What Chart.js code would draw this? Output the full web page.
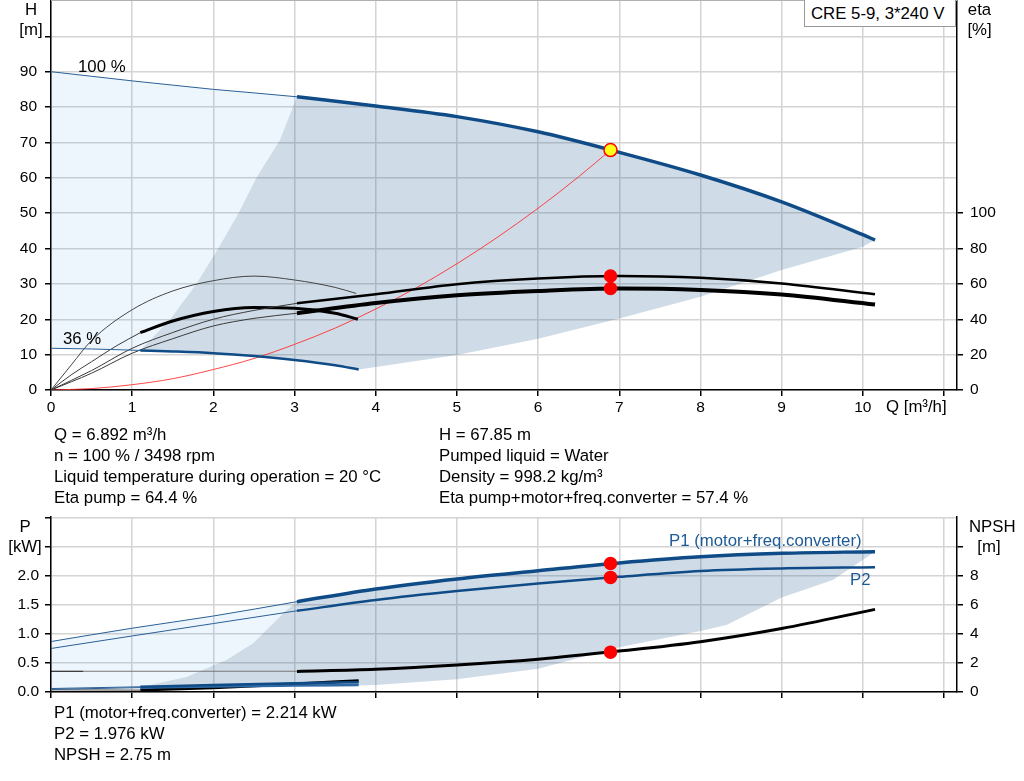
<!DOCTYPE html>
<html>
<head>
<meta charset="utf-8">
<script src="https://cdn.jsdelivr.net/npm/chart.js@4.4.1/dist/chart.umd.min.js"></script>
<style>
  body { margin: 0; background: #fff; font-family: "Liberation Sans", Arial, sans-serif; }
  #wrap { position: relative; width: 1024px; height: 781px; overflow: hidden; }
  canvas { position: absolute; left: 0; }
  .t { position: absolute; font-size: 16.8px; line-height: 21px; color: #000; white-space: nowrap; }
  .ax { position: absolute; width: 40px; text-align: center; font-size: 16.8px; line-height: 20px; }
  .blue { color: #1d5a96; }
  #model { position: absolute; left: 804px; top: -1px; width: 152px; height: 28px; border: 1px solid #999;
           background: #fff; box-sizing: border-box; font-size: 16.8px; line-height: 28px; padding-left: 6px; }
</style>
</head>
<body>
<div id="wrap">
  <canvas id="topChart" width="1024" height="425" style="top:0"></canvas>
  <canvas id="botChart" width="1024" height="207" style="top:505px"></canvas>

  <div id="model">CRE 5-9, 3*240 V</div>
  <div class="ax" style="left:11px;top:-0.5px">H<br>[m]</div>
  <div class="ax" style="left:959.5px;top:-0.5px">eta<br>[%]</div>
  <div class="t" style="left:886px;top:396px">Q [m³/h]</div>
  <div class="t" style="left:78px;top:56px">100 %</div>
  <div class="t" style="left:63px;top:327.5px">36 %</div>

  <div class="t" style="left:54px;top:423.5px">Q = 6.892 m³/h<br>n = 100 % / 3498 rpm<br>Liquid temperature during operation = 20 °C<br>Eta pump = 64.4 %</div>
  <div class="t" style="left:439px;top:423.5px">H = 67.85 m<br>Pumped liquid = Water<br>Density = 998.2 kg/m³<br>Eta pump+motor+freq.converter = 57.4 %</div>

  <div class="ax" style="left:5px;top:516.7px">P<br>[kW]</div>
  <div class="ax" style="left:969px;top:516.7px">NPSH<br>[m]</div>
  <div class="t blue" style="left:669px;top:530px">P1 (motor+freq.converter)</div>
  <div class="t blue" style="left:850px;top:568.8px">P2</div>

  <div class="t" style="left:54px;top:702px">P1 (motor+freq.converter) = 2.214 kW<br>P2 = 1.976 kW<br>NPSH = 2.75 m</div>
</div>

<script>
// ---------- data ----------
// Q-H at 100 % speed (thin part outside the recommended range, thick part inside)
const hThinQ = [0, 0.5, 1, 1.5, 2, 2.5, 3.03];
const hThinH = [90, 88.7, 87.4, 86.2, 85.0, 84.0, 82.9];
const hQ = [3.03, 4, 5, 6, 7, 8, 9, 10, 10.15];
const hH = [82.9, 80.3, 77.3, 73.0, 67.2, 60.8, 53.2, 43.9, 42.4];

// Q-H at 36 % speed
const h36ThinQ = [0, 0.5, 1.1];
const h36ThinH = [11.8, 11.6, 11.2];
const h36Q = [1.1, 1.5, 2, 2.5, 3, 3.5, 3.79];
const h36H = [11.2, 10.9, 10.4, 9.6, 8.5, 7.0, 5.8];

// efficiencies [%], right axis
const etaPumpThinQ = [0, 0.5, 1, 1.5, 2, 2.5, 3.03];
const etaPumpThin = [0, 11, 23.6, 32.5, 40, 45, 49];
const etaPumpQ = [3.03, 4, 5, 6, 7, 8, 9, 10.15];
const etaPump = [49, 54.1, 59.8, 63.0, 64.4, 63.4, 60.2, 54.1];
const etaTotThinQ = [0, 0.5, 1, 1.5, 2, 2.5, 3.03];
const etaTotThin = [0, 9.5, 20.8, 29, 36.2, 40.5, 43.4];
const etaTotQ = [3.03, 4, 5, 6, 7, 8, 9, 10.15];
const etaTot = [43.4, 49.2, 53.6, 56.0, 57.4, 56.6, 54.0, 48.3];

const eta36PumpQ = [0, 0.25, 0.5, 1, 1.5, 2, 2.5, 3, 3.5, 3.76];
const eta36Pump = [0, 14.2, 28, 45.4, 56, 61.8, 64.4, 62.2, 58, 54.6];
const eta36TotThinQ = [0, 0.25, 0.5, 0.8, 1.1];
const eta36TotThin = [0, 8.6, 16, 24.8, 32.4];
const eta36TotQ = [1.1, 1.5, 2, 2.5, 3, 3.5, 3.78];
const eta36Tot = [32.4, 39, 44.4, 46.6, 46.2, 43.4, 40.0];

// system curve through the duty point
const sysQ = [0, 0.5, 1, 1.5, 2, 2.5, 3, 3.5, 4, 4.5, 5, 5.5, 6, 6.5, 6.892];
const sysH = [0, 0.4, 1.5, 3.2, 5.8, 8.9, 12.9, 17.5, 22.9, 28.9, 35.7, 43.2, 51.4, 60.3, 67.85];

// operating range edges (Q-H)
const edgeQ = [1.1, 1.47, 1.79, 2.06, 2.31, 2.53, 2.82, 3.03];
const edgeH = [11.2, 20, 30, 40, 50, 60, 70.7, 82.9];
const lowQ = [10.15, 10, 9, 8, 7, 6, 5, 3.79];
const lowH = [42.4, 40.5, 33.9, 26.4, 20.2, 14.5, 9.9, 5.8];

// duty point
const opQ = 6.892, opH = 67.85, opEtaPump = 64.4, opEtaTot = 57.4;
const opP1 = 2.214, opP2 = 1.976, opNpsh = 2.75;

// power [kW] and NPSH [m]
const p1ThinQ = [0, 1, 2, 3.03];
const p1Thin = [0.87, 1.10, 1.31, 1.557];
const p1Q = [3.03, 4, 5, 6, 7, 8, 9, 10.15];
const p1 = [1.557, 1.776, 1.95, 2.09, 2.225, 2.33, 2.39, 2.42];
const p2ThinQ = [0, 1, 2, 3.03];
const p2Thin = [0.75, 0.966, 1.18, 1.40];
const p2Q = [3.03, 4, 5, 6, 7, 8, 9, 10.15];
const p2 = [1.40, 1.586, 1.74, 1.87, 1.985, 2.086, 2.13, 2.15];
const npshThinQ = [0, 0.4, 3.03];
const npshThin = [1.43, 1.43, 1.43];
const npshQ = [3.03, 4, 5, 6, 7, 8, 9, 10.15];
const npsh = [1.42, 1.57, 1.86, 2.26, 2.82, 3.47, 4.38, 5.7];

const p1s36ThinQ = [0, 1.1];
const p1s36Thin = [0.06, 0.09];
const p1s36Q = [1.1, 2, 3, 3.79];
const p1s36 = [0.09, 0.12, 0.15, 0.17];
const p2s36ThinQ = [0, 1.1];
const p2s36Thin = [0.045, 0.075];
const p2s36Q = [1.1, 2, 3, 3.79];
const p2s36 = [0.075, 0.095, 0.11, 0.12];
const npsh36ThinQ = [0, 1.1];
const npsh36Thin = [0.15, 0.13];
const npsh36Q = [1.1, 2, 3, 3.79];
const npsh36 = [0.13, 0.3, 0.55, 0.78];

// operating range edges (power)
const pEdgeQ = [1.1, 1.22, 1.67, 2.16, 2.49, 2.9, 3.03];
const pEdgeP = [0.09, 0.12, 0.26, 0.55, 0.84, 1.41, 1.557];
const pLowQ = [10.15, 9.63, 9, 8.32, 8, 7, 6, 5, 4, 3.79];
const pLowP = [2.42, 1.93, 1.63, 1.155, 1.05, 0.77, 0.40, 0.22, 0.12, 0.11];

// ---------- helpers ----------
const BLUE = '#0f4c87';
const THIN_BLUE = '#2a5f96';
const DARK_FILL = 'rgba(30,85,135,0.21)';
const LIGHT_FILL = 'rgba(30,130,230,0.076)';

Chart.defaults.font.family = '"Liberation Sans", Arial, sans-serif';
Chart.defaults.color = '#000';

const xy = (qs, vs) => qs.map((q, i) => ({ x: q, y: vs[i] }));
const rev = a => a.slice().reverse();

function curve(qs, vs, color, width, axis) {
  return {
    data: xy(qs, vs), yAxisID: axis || 'y',
    borderColor: color, borderWidth: width,
    pointRadius: 0, fill: false, cubicInterpolationMode: 'monotone', order: 2
  };
}

function area(pts, color) {
  return {
    data: pts, yAxisID: 'y', backgroundColor: color, borderColor: 'transparent', borderWidth: 1,
    pointRadius: 0, fill: 'shape', tension: 0, order: 5
  };
}

function dot(q, v, axis, bg, r) {
  return {
    data: [{ x: q, y: v }], yAxisID: axis, showLine: false,
    pointRadius: r, pointBackgroundColor: bg, pointBorderColor: '#f00', pointBorderWidth: 1.5, order: 0
  };
}

const tickFont = { size: 15.5 };
const gridOpts = { color: '#d4d4d4', lineWidth: 1.5, tickColor: '#000', tickLength: 6, tickWidth: 1.5 };

function xScale(h, labels) {
  return {
    type: 'linear', min: 0, max: 11.16,
    ticks: { stepSize: 1, includeBounds: false, autoSkip: false, maxRotation: 0, font: tickFont, padding: 2,
             callback: v => (labels && v <= 10 ? v : '') },
    grid: gridOpts,
    border: { color: '#000', width: 1.5 },
    afterFit: s => { s.height = h; s.paddingLeft = 0; s.paddingRight = 0; }
  };
}

function yScale(pos, max, step, lastLabel, lastTick, fmt, onArea, pad) {
  return {
    type: 'linear', position: pos, min: 0, max: max,
    ticks: { stepSize: step, includeBounds: false, autoSkip: false, font: tickFont, padding: pad,
             callback: v => (v <= lastLabel ? fmt(v) : '') },
    grid: Object.assign({}, gridOpts, { drawOnChartArea: onArea }),
    border: { color: '#000', width: 1.5 },
    afterBuildTicks: s => { s.ticks = s.ticks.filter(t => t.value <= lastTick + 1e-9); },
    afterFit: s => { s.width = pos === 'left' ? 51 : 67; s.paddingTop = 0; s.paddingBottom = 0; }
  };
}

const topBorder = {
  id: 'topBorder',
  afterDraw(c) {
    const a = c.chartArea, ctx = c.ctx;
    ctx.save();
    ctx.strokeStyle = '#b0b0b0';
    ctx.lineWidth = 1;
    ctx.beginPath();
    ctx.moveTo(a.left, a.top + 0.5);
    ctx.lineTo(a.right, a.top + 0.5);
    ctx.stroke();
    ctx.restore();
  }
};

const baseOpts = {
  responsive: false, animation: false,
  plugins: { legend: { display: false }, tooltip: { enabled: false } },
  elements: { line: { borderCapStyle: 'butt' } }
};

// ---------- top chart: Q-H and efficiency ----------
const lightTop = xy(hThinQ, hThinH)
  .concat(xy(rev(edgeQ), rev(edgeH)))
  .concat(xy(rev(h36ThinQ), rev(h36ThinH)));
const darkTop = xy(edgeQ, edgeH)
  .concat(xy(hQ, hH).slice(1))
  .concat(xy(lowQ, lowH).slice(1))
  .concat(xy(rev(h36Q), rev(h36H)).slice(1));

new Chart(document.getElementById('topChart'), {
  type: 'line',
  data: {
    datasets: [
      dot(opQ, opH, 'y', '#ffff1a', 6.5),
      dot(opQ, opEtaPump, 'y2', '#ff0000', 6),
      dot(opQ, opEtaTot, 'y2', '#ff0000', 6),
      curve(hQ, hH, BLUE, 3.5),
      curve(hThinQ, hThinH, THIN_BLUE, 1),
      curve(h36Q, h36H, BLUE, 2.5),
      curve(h36ThinQ, h36ThinH, THIN_BLUE, 1),
      curve(etaPumpQ, etaPump, '#000', 2.5, 'y2'),
      curve(etaPumpThinQ, etaPumpThin, '#3a3a3a', 1, 'y2'),
      curve(etaTotQ, etaTot, '#000', 4, 'y2'),
      curve(etaTotThinQ, etaTotThin, '#3a3a3a', 1, 'y2'),
      curve(eta36PumpQ, eta36Pump, '#444', 1, 'y2'),
      curve(eta36TotQ, eta36Tot, '#000', 3, 'y2'),
      curve(eta36TotThinQ, eta36TotThin, '#3a3a3a', 1, 'y2'),
      curve(sysQ, sysH, 'rgba(255,40,40,0.85)', 1),
      area(lightTop, LIGHT_FILL),
      area(darkTop, DARK_FILL)
    ]
  },
  options: Object.assign({}, baseOpts, {
    layout: { autoPadding: false },
    scales: {
      x: xScale(35, true),
      y: yScale('left', 110.27, 10, 90, 100, v => v, true, 8),
      y2: yScale('right', 220.5, 20, 100, 100, v => v, false, 7)
    }
  }),
  plugins: [topBorder]
});

// ---------- bottom chart: power and NPSH ----------
const lightBot = xy(p1ThinQ, p1Thin)
  .concat(xy(rev(pEdgeQ), rev(pEdgeP)))
  .concat(xy(rev(p1s36ThinQ), rev(p1s36Thin)));
const darkBot = xy(pEdgeQ, pEdgeP)
  .concat(xy(p1Q, p1).slice(1))
  .concat(xy(pLowQ, pLowP).slice(1))
  .concat(xy(rev(p2s36Q), rev(p2s36)));

new Chart(document.getElementById('botChart'), {
  type: 'line',
  data: {
    datasets: [
      dot(opQ, opP1, 'y', '#ff0000', 6),
      dot(opQ, opP2, 'y', '#ff0000', 6),
      dot(opQ, opNpsh, 'y2', '#ff0000', 6),
      curve(p1Q, p1, BLUE, 3.5),
      curve(p1ThinQ, p1Thin, THIN_BLUE, 1),
      curve(p2Q, p2, BLUE, 2.5),
      curve(p2ThinQ, p2Thin, THIN_BLUE, 1),
      curve(npshQ, npsh, '#000', 3, 'y2'),
      Object.assign(curve(npshThinQ, npshThin, '#777', 1.2, 'y2'), {
        cubicInterpolationMode: 'default', tension: 0,
        segment: { borderColor: c => (c.p0DataIndex === 0 ? '#000' : '#777') }
      }),
      curve(p1s36Q, p1s36, BLUE, 2.5),
      curve(p1s36ThinQ, p1s36Thin, THIN_BLUE, 1),
      curve(p2s36Q, p2s36, '#2f6aa6', 2.5),
      curve(p2s36ThinQ, p2s36Thin, THIN_BLUE, 1),
      curve(npsh36Q, npsh36, '#000', 3, 'y2'),
      curve(npsh36ThinQ, npsh36Thin, '#444', 1, 'y2'),
      area(lightBot, LIGHT_FILL),
      area(darkBot, DARK_FILL)
    ]
  },
  options: Object.assign({}, baseOpts, {
    layout: { autoPadding: false, padding: { top: 12 } },
    scales: {
      x: xScale(20, false),
      y: yScale('left', 3.017, 0.5, 2, 3, v => v.toFixed(1), true, 6),
      y2: yScale('right', 12.07, 2, 8, 10, v => v, false, 7)
    }
  })
});
</script>
</body>
</html>
